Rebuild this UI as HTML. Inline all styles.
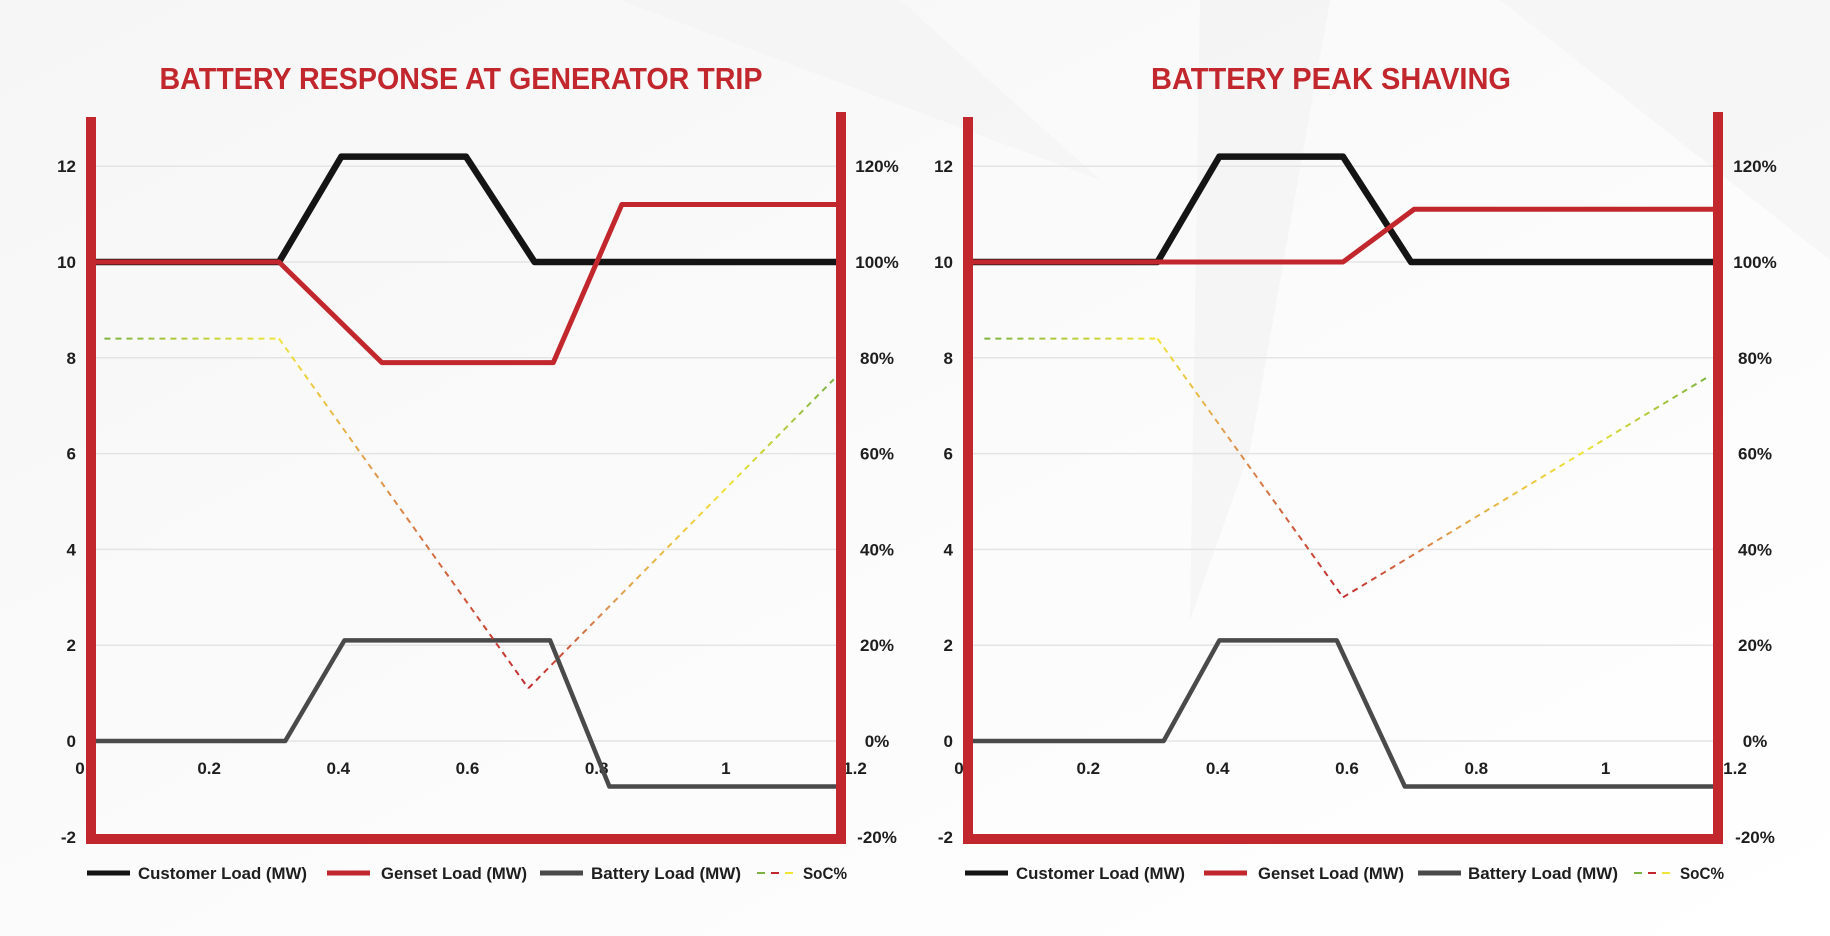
<!DOCTYPE html>
<html><head><meta charset="utf-8"><style>
html,body{margin:0;padding:0;width:1830px;height:936px;overflow:hidden;background:#fafafa;}
svg{display:block;font-family:"Liberation Sans",sans-serif;}
</style></head><body>
<svg id="root" width="1830" height="936" viewBox="0 0 1830 936">
<defs>
<linearGradient id="bg" x1="0" y1="0" x2="1" y2="1">
<stop offset="0" stop-color="#f6f6f6"/><stop offset="0.5" stop-color="#fbfbfb"/><stop offset="1" stop-color="#ffffff"/>
</linearGradient>
</defs>
<rect width="1830" height="936" fill="url(#bg)"/>
<polygon points="1200,0 1330,0 1250,450 1190,620" fill="#f0f0f0" opacity="0.5"/>
<polygon points="620,0 900,0 1100,180" fill="#f2f2f2" opacity="0.5"/>
<polygon points="1500,0 1830,0 1830,260" fill="#f2f2f2" opacity="0.5"/>
<g id="charts"></g>
</svg>
<script>
// ---- Chart 1: Battery response at generator trip ----
const c1CustomerX = [0, 0.3, 0.4, 0.6, 0.71, 1.2];
const c1CustomerY = [10, 10, 12.2, 12.2, 10, 10];
const c1GensetX = [0, 0.3, 0.465, 0.74, 0.85, 1.2];
const c1GensetY = [10, 10, 7.9, 7.9, 11.2, 11.2];
const c1BatteryX = [0, 0.31, 0.405, 0.735, 0.83, 1.2];
const c1BatteryY = [0, 0, 2.1, 2.1, -0.95, -0.95];
const c1SocX = [0.02, 0.3, 0.7, 1.19];
const c1SocY = [84, 84, 11, 75.5];
// ---- Chart 2: Battery peak shaving ----
const c2CustomerX = [0, 0.3, 0.4, 0.6, 0.71, 1.2];
const c2CustomerY = [10, 10, 12.2, 12.2, 10, 10];
const c2GensetX = [0, 0.6, 0.715, 1.2];
const c2GensetY = [10, 10, 11.1, 11.1];
const c2BatteryX = [0, 0.31, 0.4, 0.59, 0.7, 1.2];
const c2BatteryY = [0, 0, 2.1, 2.1, -0.95, -0.95];
const c2SocX = [0.02, 0.3, 0.6, 1.19];
const c2SocY = [84, 84, 30, 76];
// ---- axes ----
const yTicks = [12, 10, 8, 6, 4, 2, 0, -2];
const y2Ticks = ["120%", "100%", "80%", "60%", "40%", "20%", "0%", "-20%"];
const xTicks = [0, 0.2, 0.4, 0.6, 0.8, 1, 1.2];
const xTickLabels = ["0", "0.2", "0.4", "0.6", "0.8", "1", "1.2"];
const legendLabels = ["Customer Load (MW)", "Genset Load (MW)", "Battery Load (MW)", "SoC%"];

const NS = "http://www.w3.org/2000/svg";
const root = document.getElementById('charts');
function mk(tag, attrs, parent) {
  const e = document.createElementNS(NS, tag);
  for (const k in attrs) e.setAttribute(k, attrs[k]);
  (parent || root).appendChild(e);
  return e;
}
const RED = "#c1272d";
const Y0 = 741, YU = 47.9;

function drawChart(cfg) {
  const g = mk('g', {});
  
  
  const xs = v => cfg.x0 + v * (cfg.x1 - cfg.x0) / 1.2;
  const xl = v => cfg.l0 + v * (cfg.l1 - cfg.l0) / 1.2;
  const ys = v => Y0 - v * YU;
  const ysPct = p => ys(p / 10);
  const t = mk('text', {x: cfg.titleX, y: 89, 'text-anchor': 'middle', fill: RED, 'font-size': 31, 'font-weight': 'bold', textLength: cfg.titleW, lengthAdjust: 'spacingAndGlyphs'}, g);
  t.textContent = cfg.title;
  
  
  yTicks.forEach((v, i) => {
    const gl = mk('line', {x1: cfg.x0, x2: cfg.x1, y1: ys(v), y2: ys(v), stroke: '#e4e4e4', 'stroke-width': 1.5}, g);
    
    
    const yl = mk('text', {x: cfg.yLabX, y: ys(v) + 6, 'text-anchor': 'end', 'font-size': 17, 'font-weight': 'bold', fill: '#1e1e1e'}, g);
    yl.textContent = String(v);
    
    
    const yl2 = mk('text', {x: cfg.y2LabX, y: ys(v) + 6, 'text-anchor': 'middle', 'font-size': 17, 'font-weight': 'bold', fill: '#1e1e1e'}, g);
    yl2.textContent = y2Ticks[i];
    
    
  });
  xTicks.forEach((v, i) => {
    const tx = mk('text', {x: xl(v), y: 774, 'text-anchor': 'middle', 'font-size': 17, 'font-weight': 'bold', fill: '#1e1e1e'}, g);
    tx.textContent = xTickLabels[i];
    
    
  });
  function line(X, Y, color, w, name) {
    const pts = X.map((v, i) => xs(v) + ',' + ys(Y[i])).join(' ');
    const p = mk('polyline', {points: pts, fill: 'none', stroke: color, 'stroke-width': w, 'stroke-linejoin': 'round'}, g);
    
    
  }
  line(cfg.bx, cfg.by, '#4a4a4a', 4.5, 'battery-load-line');
  line(cfg.cx, cfg.cy, '#141414', 6.5, 'customer-load-line');
  line(cfg.gx, cfg.gy, RED, 5, 'genset-load-line');
  for (let i = 0; i < cfg.sx.length - 1; i++) {
    const id = cfg.name + '-soc' + i;
    const lg = mk('linearGradient', {id: id, gradientUnits: 'userSpaceOnUse', x1: xs(cfg.sx[i]), y1: ysPct(cfg.sy[i]), x2: xs(cfg.sx[i + 1]), y2: ysPct(cfg.sy[i + 1])}, g);
    if (i === 1) {
      mk('stop', {offset: 0, 'stop-color': '#f2e53a'}, lg);
      mk('stop', {offset: 0.35, 'stop-color': '#e0a050'}, lg);
      mk('stop', {offset: 1, 'stop-color': '#c1272d'}, lg);
    } else if (i === 2) {
      mk('stop', {offset: 0, 'stop-color': '#c1272d'}, lg);
      mk('stop', {offset: 0.3, 'stop-color': '#e0a050'}, lg);
      mk('stop', {offset: 0.65, 'stop-color': '#f2e53a'}, lg);
      mk('stop', {offset: 1, 'stop-color': '#7cb342'}, lg);
    } else {
      mk('stop', {offset: 0, 'stop-color': '#7cb342'}, lg);
      mk('stop', {offset: 1, 'stop-color': '#f2e53a'}, lg);
    }
    const s = mk('line', {x1: xs(cfg.sx[i]), y1: ysPct(cfg.sy[i]), x2: xs(cfg.sx[i + 1]), y2: ysPct(cfg.sy[i + 1]), stroke: 'url(#' + id + ')', 'stroke-width': 2, 'stroke-dasharray': '6,5'}, g);
    
    
  }
  const f1 = mk('rect', {x: cfg.fl, y: 117, width: 10, height: 727, fill: RED}, g);
  
  
  const f2 = mk('rect', {x: cfg.fr, y: 112, width: 10, height: 732, fill: RED}, g);
  
  
  const f3 = mk('rect', {x: cfg.fl, y: 834, width: cfg.fr + 10 - cfg.fl, height: 10, fill: RED}, g);
  
  
  // redraw x tick label "0" over the bar like reference
  const L = cfg.leg;
  const ly = 873;
  const cols = ['#141414', RED, '#4a4a4a'];
  for (let i = 0; i < 3; i++) {
    const sw = mk('line', {x1: L[i][0], x2: L[i][0] + 43, y1: ly, y2: ly, stroke: cols[i], 'stroke-width': 5}, g);
    
    
    const lt = mk('text', {x: L[i][1], y: ly + 6, 'font-size': 17, 'font-weight': 'bold', fill: '#1e1e1e', textLength: L[i][2], lengthAdjust: 'spacingAndGlyphs'}, g);
    lt.textContent = legendLabels[i];
    
    
  }
  const dcols = ['#7cb342', '#c1272d', '#f2e53a'];
  for (let k = 0; k < 3; k++) {
    const d = mk('line', {x1: L[3][0] + k * 14, x2: L[3][0] + k * 14 + 8, y1: ly, y2: ly, stroke: dcols[k], 'stroke-width': 2}, g);
    
    
  }
  const st = mk('text', {x: L[3][1], y: ly + 6, 'font-size': 17, 'font-weight': 'bold', fill: '#1e1e1e', textLength: L[3][2], lengthAdjust: 'spacingAndGlyphs'}, g);
  st.textContent = legendLabels[3];
  
  
}

drawChart({name: 'chart-generator-trip', title: 'BATTERY RESPONSE AT GENERATOR TRIP', titleX: 461, titleW: 603,
  x0: 92, x1: 840, l0: 80, l1: 855, yLabX: 76, y2LabX: 877, fl: 86, fr: 836,
  cx: c1CustomerX, cy: c1CustomerY, gx: c1GensetX, gy: c1GensetY, bx: c1BatteryX, by: c1BatteryY, sx: c1SocX, sy: c1SocY,
  leg: [[87, 138, 169], [327, 381, 146], [540, 591, 150], [757, 803, 44]]});
drawChart({name: 'chart-peak-shaving', title: 'BATTERY PEAK SHAVING', titleX: 1331, titleW: 360,
  x0: 972, x1: 1714, l0: 959, l1: 1735, yLabX: 953, y2LabX: 1755, fl: 963, fr: 1713,
  cx: c2CustomerX, cy: c2CustomerY, gx: c2GensetX, gy: c2GensetY, bx: c2BatteryX, by: c2BatteryY, sx: c2SocX, sy: c2SocY,
  leg: [[965, 1016, 169], [1204, 1258, 146], [1418, 1468, 150], [1634, 1680, 44]]});
</script>
</body></html>
